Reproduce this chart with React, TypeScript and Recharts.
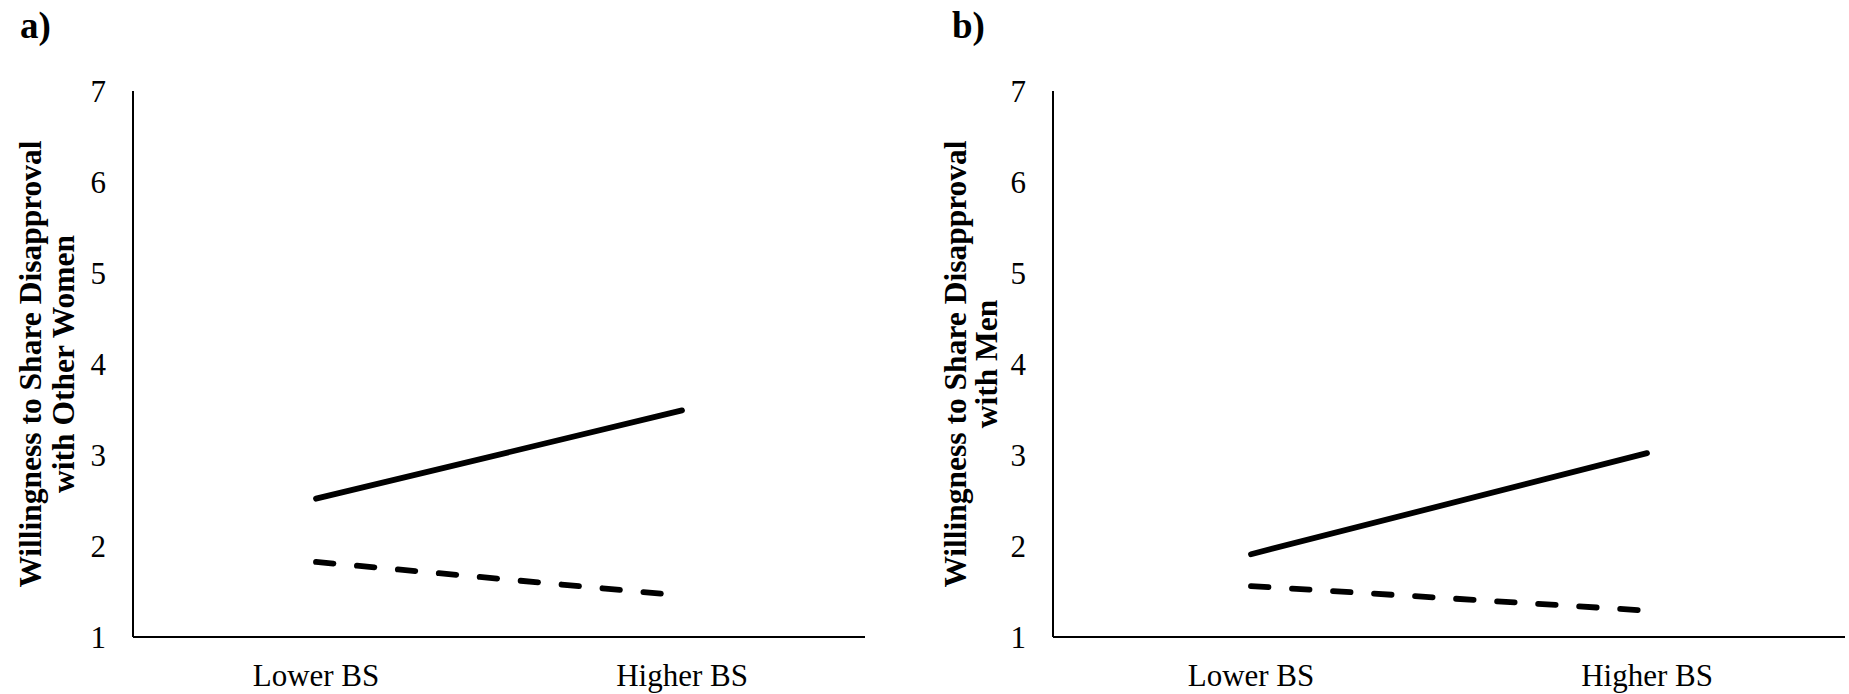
import React from "react";
import { LineChart, Line, XAxis, YAxis } from "recharts";

const categories = ["Lower BS", "Higher BS"];
const womenSolid = [2.52, 3.49];
const womenDashed = [1.825, 1.455];
const menSolid = [1.91, 3.02];
const menDashed = [1.56, 1.29];
const yTicks = [1, 2, 3, 4, 5, 6, 7];
const titleA = ["Willingness to Share Disapproval", "with Other Women"];
const titleB = ["Willingness to Share Disapproval", "with Men"];

const FONT = '"Liberation Serif", "Times New Roman", serif';

type PanelProps = {
  left: number;
  width: number;
  plotWidth: number;
  solid: number[];
  dashed: number[];
  title: string[];
  titleX: [number, number];
};

function Panel({ left, width, plotWidth, solid, dashed, title, titleX }: PanelProps) {
  const data = categories.map((c, i) => ({ cat: c, solid: solid[i], dashed: dashed[i] }));
  const top = 91;
  const bottom = 637;
  const cy = (top + bottom) / 2;
  return (
    <div style={{ position: "absolute", left, top: 0 }}>
      <LineChart
        width={width}
        height={694}
        data={data}
        margin={{ top: top, right: width - 133 - plotWidth, bottom: 0, left: 73 }}
      >
        <XAxis
          dataKey="cat"
          scale="band"
          height={694 - bottom}
          axisLine={{ stroke: "#000", strokeWidth: 2 }}
          tickLine={false}
          tickSize={0}
          tickMargin={27}
          tick={{ fill: "#000", fontFamily: FONT, fontSize: 31 }}
          interval={0}
        />
        <YAxis
          width={60}
          domain={[1, 7]}
          ticks={yTicks}
          type="number"
          axisLine={{ stroke: "#000", strokeWidth: 2 }}
          tickLine={false}
          tickSize={0}
          tickMargin={27}
          tick={{ fill: "#000", fontFamily: FONT, fontSize: 31 }}
          label={{
            content: () => (
              <g>
                <text
                  transform={`translate(${titleX[0]}, ${cy}) rotate(-90)`}
                  fontFamily={FONT}
                  fontWeight="bold"
                  fontSize={31.5}
                  fill="#000"
                  textAnchor="middle"
                >
                  {title[0]}
                </text>
                <text
                  transform={`translate(${titleX[1]}, ${cy}) rotate(-90)`}
                  fontFamily={FONT}
                  fontWeight="bold"
                  fontSize={31.5}
                  fill="#000"
                  textAnchor="middle"
                >
                  {title[1]}
                </text>
              </g>
            ),
          }}
        />
        <Line
          dataKey="solid"
          stroke="#000"
          strokeWidth={5.8}
          strokeLinecap="round"
          dot={false}
          activeDot={false}
          isAnimationActive={false}
        />
        <Line
          dataKey="dashed"
          stroke="#000"
          strokeWidth={5.8}
          strokeLinecap="round"
          strokeDasharray="17.5 23.6"
          dot={false}
          activeDot={false}
          isAnimationActive={false}
        />
      </LineChart>
    </div>
  );
}

export default function App() {
  return (
    <div style={{ position: "absolute", left: 0, top: 0, width: 1849, height: 694, background: "#fff" }}>
      <Panel left={0} width={925} plotWidth={732} solid={womenSolid} dashed={womenDashed} title={titleA} titleX={[41, 74]} />
      <Panel left={920} width={929} plotWidth={792} solid={menSolid} dashed={menDashed} title={titleB} titleX={[46, 77]} />
      <svg width={1849} height={60} style={{ position: "absolute", left: 0, top: 0, pointerEvents: "none" }}>
        <text x={20} y={38} fontFamily={FONT} fontWeight="bold" fontSize={37} fill="#000">a)</text>
        <text x={952} y={38} fontFamily={FONT} fontWeight="bold" fontSize={37} fill="#000">b)</text>
      </svg>
    </div>
  );
}
